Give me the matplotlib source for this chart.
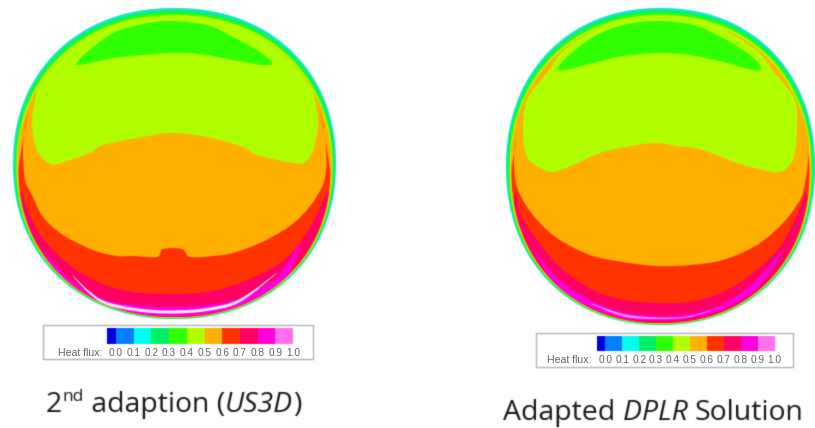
import matplotlib
matplotlib.use("Agg")
import matplotlib.pyplot as plt
import numpy as np
from matplotlib.patches import PathPatch, Polygon, Rectangle
from matplotlib.path import Path

#----------------------------------------------------
#colours of the heat flux bands
level_edges = [-0.05, 0.0, 0.1, 0.2, 0.3, 0.4, 0.5, 0.6, 0.7, 0.8, 0.9, 1.0, 1.05]
level_colors = ["#0000e0", "#0080ff", "#00ffee", "#00ee66", "#30ff00", "#b0ff00",
                "#ffb000", "#ff3300", "#ff0066", "#ff00dd", "#ff70ee", "#ffffff"]
tick_levels = [0.0, 0.1, 0.2, 0.3, 0.4, 0.5, 0.6, 0.7, 0.8, 0.9, 1.0]

us3d_rings = [((13, 336, 8, 319), "#18e6c4"), ((14.5, 334.5, 10.5, 318.6), "#00f080"),
              ((15.5, 333.5, 12.5, 318.2), "#30ff00"), ((16.5, 332.5, 15, 317.9), "#b0ff00"),
              ((17.5, 331.5, 17.5, 317.5), "#ffb000")]
us3d_clip = (18.5, 330.5, 17.5, 317)
us3d_cap = [(77, 63), (87, 52), (113, 33), (143, 24), (170, 21), (207, 25), (233, 37), (260, 52),
            (272, 63), (263, 65), (233, 60), (200, 54), (170, 53), (143, 55), (113, 58), (80, 65)]
us3d_lime = [(90, 30), (63, 50), (42, 75), (35, 100), (32, 125), (37, 150), (47, 162), (57, 164),
             (90, 153), (103, 145), (143, 137), (172, 133), (207, 137), (243, 147), (257, 155),
             (293, 163), (305, 162), (313, 150), (318, 125), (315, 100), (308, 75), (288, 50),
             (260, 30), (174, 5)]
us3d_red = [(28, 110), (25, 125), (23, 150), (25, 180), (32, 195), (43, 217), (63, 235), (93, 250),
            (117, 256), (133, 256), (157, 257), (163, 249), (182, 249), (190, 257), (213, 256),
            (233, 253), (260, 243), (287, 228), (307, 210), (322, 187), (326, 170), (326, 150),
            (323, 125), (320, 110)]
us3d_crimson = [(21, 190), (37, 230), (67, 263), (100, 283), (133, 292), (170, 294), (207, 292),
                (240, 283), (280, 263), (307, 233), (328, 190)]
us3d_magenta = [(43, 250), (67, 277), (100, 298), (133, 305), (170, 307), (207, 305), (240, 298),
                (277, 277), (300, 243), (282, 285), (240, 306), (207, 314), (170, 316), (133, 314),
                (100, 306), (67, 285)]
us3d_white = [(72, 275), (100, 299), (135, 308), (170, 310.5), (207, 308), (240, 299), (278, 272),
              (240, 302), (207, 311), (170, 313.5), (135, 311), (100, 302)]

#right disk
dplr_rings = [((506, 815, 8, 325), "#18e6c4"), ((507.5, 813.5, 10.5, 324.6), "#00f080"),
              ((508.5, 812.5, 12.5, 324.2), "#30ff00"), ((509.5, 811.5, 15, 323.9), "#b0ff00"),
              ((510.5, 810.5, 17.5, 323.5), "#ffb000")]
dplr_clip = (511.5, 809.5, 17.5, 323)
dplr_cap = [(558, 68), (567, 57), (593, 37), (623, 25), (658, 21), (693, 25), (723, 38), (750, 55),
            (761, 68), (753, 70), (723, 62), (690, 55), (658, 53), (623, 56), (593, 63), (565, 70)]
dplr_lime = [(575, 42), (547, 73), (527, 100), (523, 133), (527, 157), (540, 168), (553, 172),
             (573, 165), (603, 152), (637, 145), (658, 143), (677, 146), (703, 150), (737, 163),
             (773, 172), (787, 168), (795, 153), (797, 127), (795, 100), (775, 73), (745, 42),
             (660, 5)]
dplr_red = [(517, 135), (514, 155), (517, 187), (533, 215), (557, 238), (590, 255), (623, 262),
            (657, 266), (690, 265), (723, 260), (757, 245), (783, 223), (800, 200), (805, 183),
            (808, 160), (805, 135)]
dplr_crimson = [(516, 190), (520, 213), (537, 240), (563, 270), (597, 292), (630, 301), (657, 303),
                (690, 302), (723, 292), (753, 273), (780, 247), (798, 213), (806, 190)]
dplr_magenta = [(532, 248), (557, 278), (590, 300), (623, 312), (657, 316), (690, 314), (723, 304),
                (753, 283), (783, 250), (758, 288), (723, 309), (690, 318), (657, 320.5), (623, 318),
                (590, 307), (557, 286)]
dplr_white = [(590, 303), (623, 314), (657, 317.5), (690, 316), (723, 306), (690, 317), (657, 319),
              (623, 316.5)]


def rim_shape(l, r, t, b):
    #a disk that is slightly squarer than an ellipse, like the rim in the picture
    a = np.linspace(0, 2 * np.pi, 300)
    n = 2.15
    xs = (l + r) / 2 + (r - l) / 2 * np.sign(np.cos(a)) * np.abs(np.cos(a)) ** (2 / n)
    ys = (t + b) / 2 + (b - t) / 2 * np.sign(np.sin(a)) * np.abs(np.sin(a)) ** (2 / n)
    return np.column_stack([xs, ys])


def smooth_path(pts, closed=True, tail=()):
    #catmull-rom through the read points, turned into bezier segments
    p = np.array(pts, float)
    n = len(p)
    verts = [p[0]]
    codes = [Path.MOVETO]
    for i in range(n if closed else n - 1):
        if closed:
            p0, p1, p2, p3 = p[(i - 1) % n], p[i], p[(i + 1) % n], p[(i + 2) % n]
        else:
            p0, p1, p2, p3 = p[max(i - 1, 0)], p[i], p[i + 1], p[min(i + 2, n - 1)]
        verts += [p1 + (p2 - p0) / 6, p2 - (p3 - p1) / 6, p2]
        codes += [Path.CURVE4] * 3
    for q in tail:
        verts.append(q)
        codes.append(Path.LINETO)
    if not closed:
        verts.append(p[0])
        codes.append(Path.CLOSEPOLY)
    return Path(verts, codes)


def disk(ax, rings, clip, cap, lime, red, crimson, magenta, white, white_color):
    for box, col in rings:
        ax.add_patch(Polygon(rim_shape(*box), closed=True, fc=col, ec="none"))
    l, r, t, b = clip
    edge = Polygon(rim_shape(l, r, t, b), closed=True, fc="none", ec="none")
    ax.add_patch(edge)
    tail = [(r + 30, b + 30), (l - 30, b + 30)]
    shapes = [(smooth_path(lime), "#b0ff00"), (smooth_path(cap), "#30ff00"),
              (smooth_path(red, False, tail), "#ff3300"),
              (smooth_path(crimson, False, tail), "#ff0066"),
              (smooth_path(magenta), "#ff00dd"), (smooth_path(white), white_color)]
    for path, col in shapes:
        p = PathPatch(path, fc=col, ec="none")
        ax.add_patch(p)
        p.set_clip_path(edge)


def colour_key(fig, ax, box, bar, label_y, text_right):
    x0, x1, y0, y1 = box
    ax.add_patch(Rectangle((x0, y0), x1 - x0, y1 - y0, fc="white", ec="#b4b4b4", lw=1))
    bx0, bx1, by0, by1 = bar
    scale = (bx1 - bx0) / (level_edges[-1] - level_edges[0])
    to_x = lambda v: bx0 + (v - level_edges[0]) * scale
    for i, col in enumerate(level_colors):
        ax.bar(to_x(level_edges[i]), by1 - by0, to_x(level_edges[i + 1]) - to_x(level_edges[i]),
               by0, align="edge", color=col)
    #on the figure, so the blur below does not eat the decimal points
    for v in tick_levels:
        fig.text(to_x(v), label_y, f"{v:.1f}", ha="center", va="center", fontsize=7.3,
                 family="Liberation Sans", color="#666666", transform=ax.transData)
    fig.text(text_right, label_y, "Heat flux:", ha="right", va="center", fontsize=7.6,
             family="Liberation Sans", color="#666666", transform=ax.transData)


def caption(fig, ax, x, y, pieces):
    #pieces are placed one after the other, so the italics and superscript stay real text
    rend = fig.canvas.get_renderer()
    for txt, style, size, dy in pieces:
        t = ax.text(x, y + dy, txt, fontsize=size, style=style, family="Open Sans",
                    color="#1a1a1a", ha="left", va="baseline")
        x = t.get_window_extent(rend).x1


def soften(image, dpi):
    #the reference is a slightly blurred screenshot
    kernel = np.array([0.15, 0.70, 0.15])
    out = image.copy()
    for axis in (0, 1):
        out = np.apply_along_axis(lambda v: np.convolve(np.pad(v, 1, mode="edge"), kernel, "valid"),
                                  axis, out)
    return out, 0, 0


fig = plt.figure(figsize=(8.15, 4.28), dpi=100)
ax = fig.add_axes([0, 0, 1, 1])
ax.set_xlim(0, 815)
ax.set_ylim(428, 0)
ax.axis("off")
ax.add_patch(Rectangle((0, 0), 815, 428, fc="white", ec="none"))

disk(ax, us3d_rings, us3d_clip, us3d_cap, us3d_lime, us3d_red, us3d_crimson, us3d_magenta,
     us3d_white, "#fff0ff")
disk(ax, dplr_rings, dplr_clip, dplr_cap, dplr_lime, dplr_red, dplr_crimson, dplr_magenta,
     dplr_white, "#ff90f0")

colour_key(fig, ax, (43, 313, 325, 359), (107, 302, 328, 344), 353, 102)
colour_key(fig, ax, (536, 793, 333, 367), (597, 783, 336, 351), 360, 591)

caption(fig, ax, 46, 412, [("2", "normal", 20.4, 0), ("nd", "normal", 12.5, -11),
                           (" adaption (", "normal", 20.4, 0), ("US3D", "italic", 20.4, 0),
                           (")", "normal", 20.4, 0)])
caption(fig, ax, 503, 420, [("Adapted ", "normal", 20.4, 0), ("DPLR ", "italic", 20.4, 0),
                            ("Solution", "normal", 20.4, 0)])

ax.set_agg_filter(soften)
fig.savefig("out.png", dpi=100)
